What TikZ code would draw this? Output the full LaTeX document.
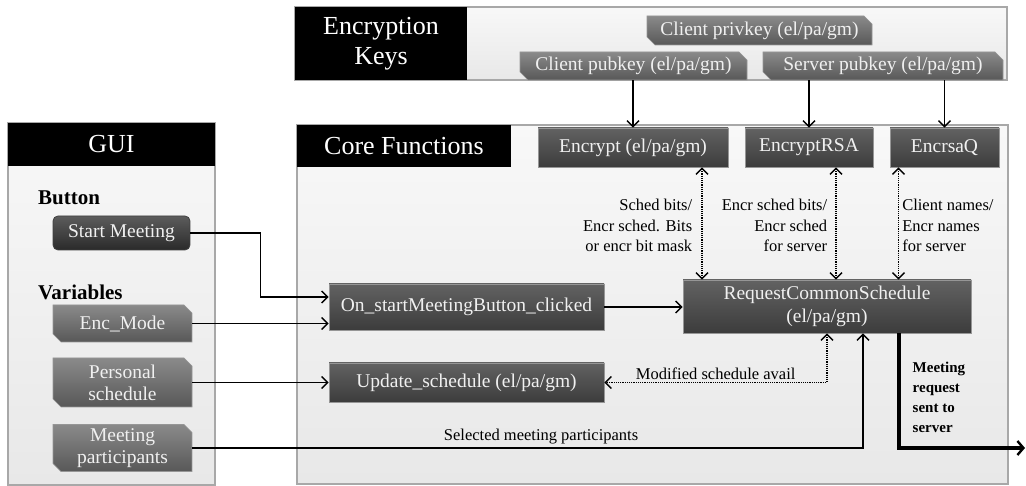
\documentclass[tikz,border=0pt]{standalone}
\usepackage{fontspec}
\setmainfont{Liberation Serif}
\usepackage{xcolor}
\definecolor{panelline}{RGB}{168,168,168}
\definecolor{paneltop}{RGB}{248,248,248}
\definecolor{panelbot}{RGB}{232,232,232}
\definecolor{functop}{RGB}{98,98,98}
\definecolor{funcbot}{RGB}{60,60,60}
\definecolor{keytop}{RGB}{138,138,138}
\definecolor{keybot}{RGB}{88,88,88}
\definecolor{btntop}{RGB}{92,92,92}
\definecolor{btnbot}{RGB}{42,42,42}
\definecolor{boxline}{RGB}{150,150,150}
\usetikzlibrary{arrows.meta, positioning, shapes.misc, calc}

\tikzset{
  panel/.style={draw=panelline, line width=1.2pt, top color=paneltop, bottom color=panelbot},
  titlebar/.style={fill=black, text=white, inner sep=0pt, align=center, font=\fontsize{26}{30}\selectfont},
  funcbox/.style={draw=boxline, line width=0.8pt, top color=functop, bottom color=funcbot,
    text=white!94!black, inner sep=0pt, align=center, font=\fontsize{19.5}{23}\selectfont},
  keybox/.style={chamfered rectangle, chamfered rectangle corners={north east, south west},
    chamfered rectangle xsep=4pt, chamfered rectangle ysep=4pt, draw=boxline, line width=0.6pt,
    top color=keytop, bottom color=keybot, text=white!94!black, inner sep=0pt, align=center,
    font=\fontsize{19.5}{22}\selectfont},
  btnbox/.style={rounded corners=5pt, draw=black!75, line width=0.8pt, top color=btntop, bottom color=btnbot,
    text=white!94!black, inner sep=0pt, align=center, font=\fontsize{19.5}{22}\selectfont},
  grouplbl/.style={anchor=west, inner sep=0pt, font=\bfseries\fontsize{21}{25}\selectfont},
  lbl/.style={inner sep=0pt, font=\fontsize{16.5}{20.5}\selectfont},
  flow/.style={line width=1.4pt, -{Straight Barb[length=6pt, width=12pt, line width=1.4pt]}},
  dataflow/.style={line width=1.6pt, dash pattern=on 1.2pt off 1pt,
    {Straight Barb[length=6pt, width=12pt, line width=1.4pt]}-{Straight Barb[length=6pt, width=12pt, line width=1.4pt]}},
  sendflow/.style={line width=3.4pt, -{Straight Barb[length=6pt, width=14pt, line width=2.4pt]}},
}

\begin{document}
\begin{tikzpicture}[x=1pt, y=-1pt]
  \useasboundingbox (0,0) rectangle (1026,486);

  % --- Panel: Encryption Keys ---
  \draw[panel] (295,7) rectangle (1007,80);
  \node[titlebar, minimum width=172pt, minimum height=73pt] (keysTitle) at (381,43.5) {Encryption\\Keys};
  \node[keybox, minimum width=225pt, minimum height=29pt] (privKey) at (759.5,30.5) {Client privkey (el/pa/gm)};
  \node[keybox, minimum width=227pt, minimum height=28pt] (cliPub) at (633.5,66) {Client pubkey (el/pa/gm)};
  \node[keybox, minimum width=240pt, minimum height=28pt] (srvPub) at (883,66) {Server pubkey (el/pa/gm)};

  % --- Panel: Core Functions ---
  \draw[panel] (297,125) rectangle (1008,484);
  \node[titlebar, minimum width=214pt, minimum height=42pt] (coreTitle) at (404,146) {Core Functions};
  \node[funcbox, minimum width=190pt, minimum height=39pt] (encrypt) at (633,147.5) {Encrypt (el/pa/gm)};
  \node[funcbox, minimum width=128pt, minimum height=39pt] (encRSA) at (809,147.5) {EncryptRSA};
  \node[funcbox, minimum width=109pt, minimum height=39pt] (encQ) at (944.5,147.5) {EncrsaQ};
  \node[funcbox, minimum width=275pt, minimum height=46pt] (onStart) at (466.5,307) {On\_startMeetingButton\_clicked};
  \node[funcbox, minimum width=288pt, minimum height=53pt] (reqCS) at (827,306.5) {RequestCommonSchedule\\(el/pa/gm)};
  \node[funcbox, minimum width=275pt, minimum height=39pt] (update) at (466.5,382.5) {Update\_schedule (el/pa/gm)};

  % --- Panel: GUI ---
  \draw[panel] (8,123) rectangle (215,485);
  \node[titlebar, minimum width=207pt, minimum height=43pt] (guiTitle) at (111.5,144.5) {GUI};
  \node[grouplbl] (btnLbl) at (38,198) {Button};
  \node[btnbox, minimum width=137pt, minimum height=34pt] (startBtn) at (121.5,233) {Start Meeting};
  \node[grouplbl] (varLbl) at (38,292) {Variables};
  \node[keybox, minimum width=139pt, minimum height=37pt] (encMode) at (122.5,323.5) {Enc\_Mode};
  \node[keybox, minimum width=139pt, minimum height=49pt] (persSched) at (122.5,382.5) {Personal\\schedule};
  \node[keybox, minimum width=139pt, minimum height=46pt] (meetPart) at (122.5,448) {Meeting\\participants};

  % keys into functions
  \draw[flow] (cliPub.south -| encrypt.north) -- (encrypt.north);
  \draw[flow] (srvPub.south -| encRSA.north) -- (encRSA.north);
  \draw[flow] (srvPub.south -| encQ.north) -- (encQ.north);

  % data exchange with RequestCommonSchedule
  \coordinate (dEnc) at ([xshift=69pt]encrypt.south);
  \coordinate (dRSA) at ([xshift=27pt]encRSA.south);
  \coordinate (dQ) at ([xshift=-46pt]encQ.south);
  \draw[dataflow] (dEnc) -- node[midway, left=9pt, lbl, align=right, yshift=-2pt] {Sched bits/\\Encr sched. Bits\\or encr bit mask} (dEnc |- reqCS.north);
  \draw[dataflow] (dRSA) -- node[midway, left=8pt, lbl, align=right, yshift=-2pt] {Encr sched bits/\\Encr sched\\for server} (dRSA |- reqCS.north);
  \draw[dataflow] (dQ) -- node[midway, right=3pt, lbl, align=left, yshift=-2pt] {Client names/\\Encr names\\for server} (dQ |- reqCS.north);
  \draw[dataflow] (reqCS.south) |- node[pos=0.75, above=2pt, lbl] {Modified schedule avail} (update.east);

  % GUI into functions
  \draw[flow] (startBtn.east) -- ++(70,0) |- ([yshift=10pt]onStart.west);
  \draw[flow] (encMode.east) -- (encMode.east -| onStart.west);
  \draw[flow] (persSched.east) -- (persSched.east -| update.west);
  \draw[flow] (meetPart.east) -| node[pos=0.26, above=3pt, lbl] {Selected meeting participants} ([xshift=36pt]reqCS.south);
  \draw[flow] (onStart.east) -- (onStart.east -| reqCS.west);

  % request out to server
  \coordinate (server) at (1025,448);
  \draw[sendflow] ([xshift=72pt]reqCS.south) |- node[pos=0.28, right=12pt, inner sep=0pt, align=left,
    font=\bfseries\fontsize{15}{20}\selectfont] {Meeting\\request\\sent to\\server} (server);
\end{tikzpicture}
\end{document}
